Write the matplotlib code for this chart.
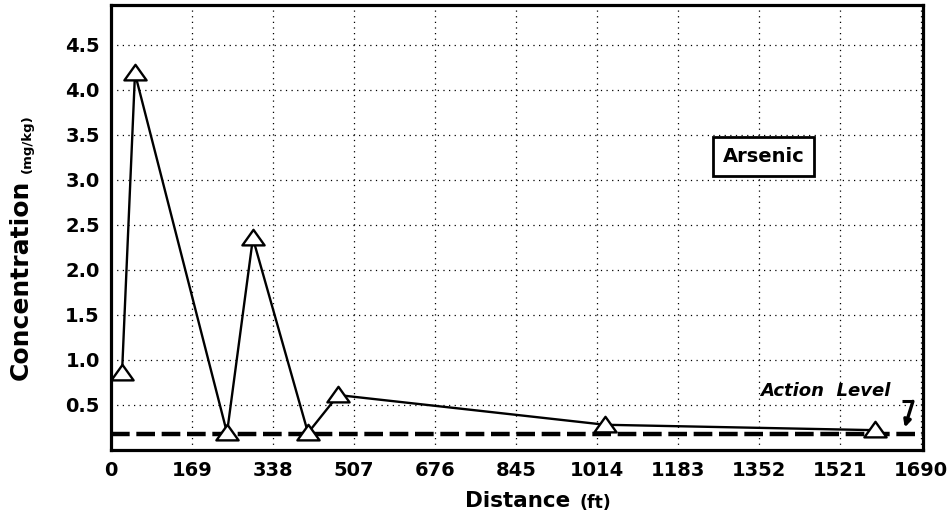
import matplotlib
matplotlib.use('Agg')
import matplotlib.pyplot as plt
from matplotlib.path import Path

# data
distance_ft = [23, 50, 242, 296, 411, 474, 1031, 1594]
arsenic_mgkg = [0.86, 4.18, 0.19, 2.35, 0.19, 0.61, 0.28, 0.22]
action_level = 0.18
x_ticks = [0, 169, 338, 507, 676, 845, 1014, 1183, 1352, 1521, 1690]
y_ticks = [0.5, 1.0, 1.5, 2.0, 2.5, 3.0, 3.5, 4.0, 4.5]

plt.rcParams['font.family'] = ['DejaVu Sans']
plt.rcParams['font.weight'] = 'bold'

fig = plt.figure(figsize=(9.53, 5.23), dpi=100)
ax = fig.add_axes([0.1165, 0.1396, 0.852, 0.8508])

# wide, flat open triangle like the original plotter symbol
tri = Path([(-1, -0.62), (1, -0.62), (0, 0.78), (-1, -0.62)],
           [Path.MOVETO, Path.LINETO, Path.LINETO, Path.CLOSEPOLY])

ax.axhline(action_level, color='black', lw=3.2, ls=(0, (4.2, 1.5)), zorder=2)
ax.plot(distance_ft, arsenic_mgkg, color='black', lw=1.7, zorder=3,
        marker=tri, markersize=16, markerfacecolor='white',
        markeredgecolor='black', markeredgewidth=1.7)

ax.set_xlim(0, 1694)
ax.set_ylim(0, 4.94)
ax.set_xticks(x_ticks)
ax.set_yticks(y_ticks)
ax.set_yticklabels([f"{v:.1f}" for v in y_ticks])
ax.tick_params(length=0, labelsize=14, pad=8)
for lab in ax.get_xticklabels() + ax.get_yticklabels():
    lab.set_fontweight('bold')

ax.grid(True, color='black', ls=(0, (1, 3.5)), lw=0.9)
for s in ax.spines.values():
    s.set_linewidth(2.3)

# label box
ax.text(0.804, 0.66, "Arsenic", transform=ax.transAxes, ha='center',
        va='center', fontsize=14, fontweight='bold',
        bbox=dict(boxstyle='square,pad=0.5', fc='white', ec='black', lw=2))

# action level note with hooked arrow ("7" shape)
ax.text(1354, 0.65, "Action  Level", ha='left', va='center', fontsize=13,
        fontweight='bold', style='italic')
ax.plot([1650, 1674], [0.54, 0.54], color='black', lw=2.2,
        solid_capstyle='butt')
ax.annotate("", xy=(1656, 0.25), xytext=(1673, 0.54),
            arrowprops=dict(arrowstyle='-|>', color='black', lw=2.4,
                            mutation_scale=10, shrinkA=0, shrinkB=0))

# axis titles with smaller unit text
fig.text(518 / 953, 1 - 501 / 523, "Distance", ha='center', va='center',
         fontsize=15.5, fontweight='bold')
fig.text(595 / 953, 1 - 503 / 523, "(ft)", ha='center', va='center',
         fontsize=12.5, fontweight='bold')
fig.text(33 / 953, 1 - 280 / 523, "Concentration", ha='right', va='center',
         fontsize=18, fontweight='bold', rotation=90)
fig.text(34 / 953, 1 - 144 / 523, "(mg/kg)", ha='right', va='center',
         fontsize=9.5, fontweight='bold', rotation=90)

fig.savefig("out.png", dpi=100)
